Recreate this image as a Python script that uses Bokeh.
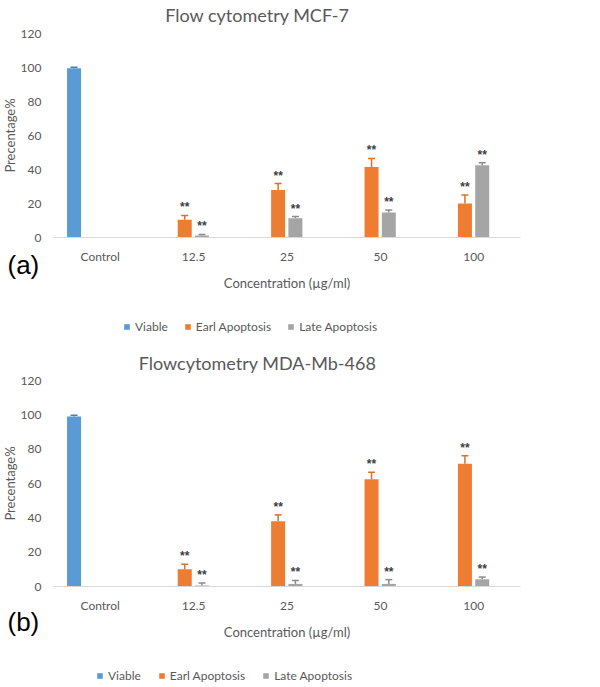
from bokeh.plotting import figure
from bokeh.models import (FactorRange, Range1d, ColumnDataSource, Whisker, TeeHead,
                          Legend, LegendItem, Label, FixedTicker)
from bokeh.transform import dodge
from bokeh.layouts import column
from bokeh.embed import file_html
from bokeh.resources import INLINE

categories = ["Control", "12.5", "25", "50", "100"]
y_ticks = [0, 20, 40, 60, 80, 100, 120]
series_names = ["Viable", "Earl Apoptosis", "Late Apoptosis"]

# Panel (a): MCF-7
mcf7_viable = [99.5, 0, 0, 0, 0]
mcf7_early = [0, 10.5, 28.0, 41.5, 20.0]
mcf7_late = [0, 1.2, 11.3, 14.7, 42.5]
mcf7_viable_err = [0.7, 0, 0, 0, 0]
mcf7_early_err = [0, 2.5, 3.7, 5.0, 5.0]
mcf7_late_err = [0, 0.6, 1.0, 1.5, 1.4]
mcf7_early_sig = ["", "**", "**", "**", "**"]
mcf7_late_sig = ["", "**", "**", "**", "**"]

# Panel (b): MDA-Mb-468
mda_viable = [99.0, 0, 0, 0, 0]
mda_early = [0, 10.0, 38.0, 62.5, 71.5]
mda_late = [0, 0.6, 1.5, 1.5, 4.2]
mda_viable_err = [0.8, 0, 0, 0, 0]
mda_early_err = [0, 3.0, 3.7, 4.0, 4.7]
mda_late_err = [0, 1.5, 2.0, 2.5, 1.3]
mda_early_sig = ["", "**", "**", "**", "**"]
mda_late_sig = ["", "**", "**", "**", "**"]

COLORS = ["#5B9BD5", "#ED7D31", "#A5A5A5"]
ERR_COLORS = ["#4A7FB0", "#D8722C", "#8C8C8C"]
OFFSETS = [-0.28, -0.095, 0.09]
TXT = "#595959"
FONT = "Lato"

W = 592
PLOT_LEFT = 53      # px where the category area starts
PLOT_RIGHT = 520    # px where the category area ends


def make_chart(title, letter, values, errs, sigs, height, y120_px, y0_px,
               title_y, legend_x, legend_cy, letter_bottom, legend_spacing):
    ncat = len(categories)
    unit = (PLOT_RIGHT - PLOT_LEFT) / ncat
    pad = PLOT_LEFT / unit
    frame_w = PLOT_RIGHT + PLOT_LEFT
    ppu = (y0_px - y120_px) / 120.0
    y_top = 120 + y120_px / ppu
    y_bot = -(height - y0_px) / ppu

    p = figure(x_range=FactorRange(*categories, range_padding=pad,
                                   range_padding_units="absolute"),
               y_range=Range1d(y_bot, y_top),
               width=W, height=height, output_backend="svg", toolbar_location=None,
               min_border=0, min_border_left=0, min_border_top=0, min_border_bottom=0,
               min_border_right=W - frame_w)
    p.outline_line_color = None
    p.xgrid.grid_line_color = None
    p.ygrid.grid_line_color = None
    p.background_fill_color = "white"

    # y axis
    p.yaxis.fixed_location = 0
    p.yaxis.bounds = (0, 120)
    p.yaxis.ticker = FixedTicker(ticks=y_ticks)
    p.yaxis.axis_line_color = None
    p.yaxis.major_tick_line_color = None
    p.yaxis.minor_tick_line_color = None
    p.yaxis.major_label_text_font = FONT
    p.yaxis.major_label_text_font_size = "12px"
    p.yaxis.major_label_text_color = TXT
    p.yaxis.major_label_standoff = 6
    p.yaxis.axis_label = "Precentage%"
    p.yaxis.axis_label_text_font = FONT
    p.yaxis.axis_label_text_font_size = "13px"
    p.yaxis.axis_label_text_font_style = "normal"
    p.yaxis.axis_label_text_color = TXT
    p.yaxis.axis_label_standoff = 0

    # x axis
    p.xaxis.fixed_location = 0
    p.xaxis.bounds = (0, ncat)
    p.xaxis.axis_line_color = "#D9D9D9"
    p.xaxis.axis_line_width = 1
    p.xaxis.major_tick_line_color = None
    p.xaxis.minor_tick_line_color = None
    p.xaxis.major_label_text_font = FONT
    p.xaxis.major_label_text_font_size = "12px"
    p.xaxis.major_label_text_color = TXT
    p.xaxis.major_label_standoff = 5
    p.xaxis.axis_label = "Concentration (\u00b5g/ml)"
    p.xaxis.axis_label_text_font = FONT
    p.xaxis.axis_label_text_font_size = "13px"
    p.xaxis.axis_label_text_font_style = "normal"
    p.xaxis.axis_label_text_color = TXT
    p.xaxis.axis_label_standoff = 8

    items = []
    for i in range(3):
        src = ColumnDataSource(dict(cat=categories, top=values[i]))
        r = p.vbar(x=dodge("cat", OFFSETS[i], range=p.x_range), top="top", width=0.15,
                   source=src, fill_color=COLORS[i], line_color=None)
        items.append(LegendItem(label=series_names[i], renderers=[r]))

        keep = [k for k in range(ncat) if errs[i][k] > 0]
        wsrc = ColumnDataSource(dict(
            cat=[categories[k] for k in keep],
            lower=[values[i][k] for k in keep],
            upper=[values[i][k] + errs[i][k] for k in keep],
        ))
        w = Whisker(base=dodge("cat", OFFSETS[i], range=p.x_range), lower="lower",
                    upper="upper", source=wsrc, dimension="height",
                    line_color=ERR_COLORS[i], line_width=1.5,
                    upper_head=TeeHead(size=7, line_color=ERR_COLORS[i], line_width=1.5),
                    lower_head=None)
        p.add_layout(w)

        if sigs[i] is not None:
            sk = [k for k in range(ncat) if sigs[i][k]]
            ssrc = ColumnDataSource(dict(
                cat=[categories[k] for k in sk],
                y=[values[i][k] + errs[i][k] for k in sk],
                t=[sigs[i][k] for k in sk],
            ))
            p.text(x=dodge("cat", OFFSETS[i], range=p.x_range), y="y", text="t", source=ssrc,
                   text_align="center", text_baseline="bottom", y_offset=-1,
                   text_font_size="12px", text_font_style="bold", text_color="#404040")

    legend = Legend(items=items, orientation="horizontal",
                    location=(legend_x, height - legend_cy - 7.5),
                    glyph_width=7, glyph_height=7, label_text_font=FONT,
                    label_text_font_size="12px", label_text_color=TXT,
                    border_line_color=None, background_fill_alpha=0,
                    spacing=legend_spacing, padding=0, margin=0, label_standoff=5,
                    label_height=15)
    p.add_layout(legend)

    # chart title (centred on the chart area, as in the source)
    p.add_layout(Label(x=257, y=height - title_y, x_units="screen", y_units="screen",
                       text=title, text_font=FONT, text_font_size="18px",
                       text_color=TXT, text_align="center", text_baseline="middle"))

    # panel letter
    p.add_layout(Label(x=7, y=height - letter_bottom, x_units="screen", y_units="screen",
                       text=letter, text_font="Liberation Sans", text_font_size="26px",
                       text_color="black", text_align="left", text_baseline="bottom"))
    return p


p1 = make_chart("Flow cytometry MCF-7", "(a)",
                [mcf7_viable, mcf7_early, mcf7_late],
                [mcf7_viable_err, mcf7_early_err, mcf7_late_err],
                [None, mcf7_early_sig, mcf7_late_sig],
                height=343, y120_px=33, y0_px=237, title_y=14,
                legend_x=123, legend_cy=326, letter_bottom=279, legend_spacing=16)
p2 = make_chart("Flowcytometry MDA-Mb-468", "(b)",
                [mda_viable, mda_early, mda_late],
                [mda_viable_err, mda_early_err, mda_late_err],
                [None, mda_early_sig, mda_late_sig],
                height=344, y120_px=37, y0_px=243, title_y=19,
                legend_x=96, legend_cy=332, letter_bottom=293, legend_spacing=17)

layout = column(p1, p2, spacing=0)
open("out.html", "w").write(file_html(layout, INLINE))
